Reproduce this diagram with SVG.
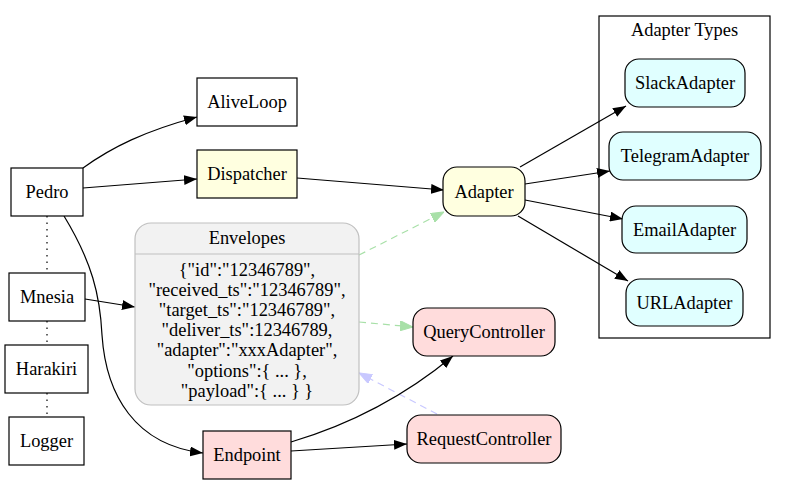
<svg xmlns="http://www.w3.org/2000/svg" width="787" height="484" viewBox="0 0 787 484">
<style>
text{font-family:"Liberation Serif",serif;font-size:18.4px;fill:#000;text-anchor:middle}
.n{stroke:#000;stroke-width:1.2}
.w{fill:#fff}
.y{fill:#ffffe0}
.p{fill:#ffdcdc}
.c{fill:#e0ffff}
.e{stroke:#000;stroke-width:1.2;fill:none}
.g{stroke:#a8e0a8;stroke-width:1.2;fill:none;stroke-dasharray:7,5}
.b{stroke:#c8c8ff;stroke-width:1.2;fill:none;stroke-dasharray:7,5}
.d{stroke:#000;stroke-width:1.2;fill:none;stroke-dasharray:1.5,5}
</style>
<defs>
<marker id="ab" viewBox="0 0 13 10" refX="13" refY="5" markerWidth="13" markerHeight="10" markerUnits="userSpaceOnUse" orient="auto"><path d="M0,0 L13,5 L0,10 z" fill="#000"/></marker>
<marker id="ag" viewBox="0 0 13 10" refX="13" refY="5" markerWidth="13" markerHeight="10" markerUnits="userSpaceOnUse" orient="auto"><path d="M0,0 L13,5 L0,10 z" fill="#a8e0a8" stroke="#a8e0a8"/></marker>
<marker id="abl" viewBox="0 0 13 10" refX="13" refY="5" markerWidth="13" markerHeight="10" markerUnits="userSpaceOnUse" orient="auto"><path d="M0,0 L13,5 L0,10 z" fill="#c8c8ff" stroke="#c8c8ff"/></marker>
</defs>
<g id="cluster_adapter_types">
<rect x="599" y="16" width="171" height="322" fill="#fff" stroke="#000" stroke-width="1.2"/>
<text x="684.5" y="36" font-family="Liberation Serif, serif">Adapter Types</text>
</g>
<g id="connectors">
<path class="d" d="M47,216 L47,273"/>
<path class="d" d="M47,321 L47,345"/>
<path class="d" d="M47,393 L47,417"/>
<path class="e" marker-end="url(#ab)" d="M83,168 C112,147 145,131 197,117"/>
<path class="e" marker-end="url(#ab)" d="M83,188 L197,179"/>
<path class="e" marker-end="url(#ab)" d="M64,216 C92,262 100,295 102,335 C106,395 135,445 203,453"/>
<path class="e" marker-end="url(#ab)" d="M85,299 L135,307"/>
<path class="e" marker-end="url(#ab)" d="M297,178 L444,190"/>
<path class="e" marker-end="url(#ab)" d="M520,167 L626,106"/>
<path class="e" marker-end="url(#ab)" d="M525,184 L610,171"/>
<path class="e" marker-end="url(#ab)" d="M525,200 L623,219"/>
<path class="e" marker-end="url(#ab)" d="M518,216 L628,281"/>
<path class="g" marker-end="url(#ag)" d="M359,255 L444,212"/>
<path class="g" marker-end="url(#ag)" d="M359,322 L413,327"/>
<path class="b" marker-end="url(#abl)" d="M437,414 L359,373"/>
<path class="e" marker-end="url(#ab)" d="M291,442 C345,426 400,400 453,356"/>
<path class="e" marker-end="url(#ab)" d="M291,451 L407,444"/>
</g>
<g id="Pedro"><rect class="n w" x="11" y="168" width="72" height="48"/><text x="47" y="198">Pedro</text></g>
<g id="AliveLoop"><rect class="n w" x="197" y="78" width="100" height="48"/><text x="247" y="108">AliveLoop</text></g>
<g id="Dispatcher"><rect class="n y" x="197" y="150" width="100" height="48"/><text x="247" y="180">Dispatcher</text></g>
<g id="Mnesia"><rect class="n w" x="9" y="273" width="76" height="48"/><text x="47" y="303">Mnesia</text></g>
<g id="Harakiri"><rect class="n w" x="5" y="345" width="83" height="48"/><text x="46.5" y="375">Harakiri</text></g>
<g id="Logger"><rect class="n w" x="9" y="417" width="75" height="48"/><text x="46.5" y="447">Logger</text></g>
<g id="Envelopes">
<rect x="135" y="223" width="224" height="182" rx="16" fill="#f2f2f2" stroke="#c0c0c0" stroke-width="1.2"/>
<path d="M135,254 L359,254" stroke="#c0c0c0" stroke-width="1.2"/>
<text x="247" y="244">Envelopes</text>
<text x="247" y="275.5">{"id":"12346789",</text>
<text x="247" y="295.7">"received_ts":"12346789",</text>
<text x="247" y="315.9">"target_ts":"12346789",</text>
<text x="247" y="336.1">"deliver_ts":12346789,</text>
<text x="247" y="356.3">"adapter":"xxxAdapter",</text>
<text x="247" y="376.5">"options":{ ... },</text>
<text x="247" y="396.7">"payload":{ ... } }</text>
</g>
<g id="Adapter"><rect class="n y" x="443" y="167" width="82" height="49" rx="14"/><text x="484" y="197.5">Adapter</text></g>
<g id="SlackAdapter"><rect class="n c" x="625" y="59" width="120" height="48" rx="14"/><text x="685" y="89">SlackAdapter</text></g>
<g id="TelegramAdapter"><rect class="n c" x="609" y="132" width="152" height="48" rx="14"/><text x="685" y="162">TelegramAdapter</text></g>
<g id="EmailAdapter"><rect class="n c" x="622" y="206" width="125" height="47" rx="14"/><text x="684.5" y="235.5">EmailAdapter</text></g>
<g id="URLAdapter"><rect class="n c" x="626" y="279" width="117" height="47" rx="14"/><text x="684.5" y="308.5">URLAdapter</text></g>
<g id="QueryController"><rect class="n p" x="413" y="308" width="142" height="48" rx="14"/><text x="484" y="338">QueryController</text></g>
<g id="RequestController"><rect class="n p" x="407" y="415" width="154" height="48" rx="14"/><text x="484" y="445">RequestController</text></g>
<g id="Endpoint"><rect class="n p" x="203" y="431" width="88" height="48"/><text x="247" y="461">Endpoint</text></g>
</svg>
